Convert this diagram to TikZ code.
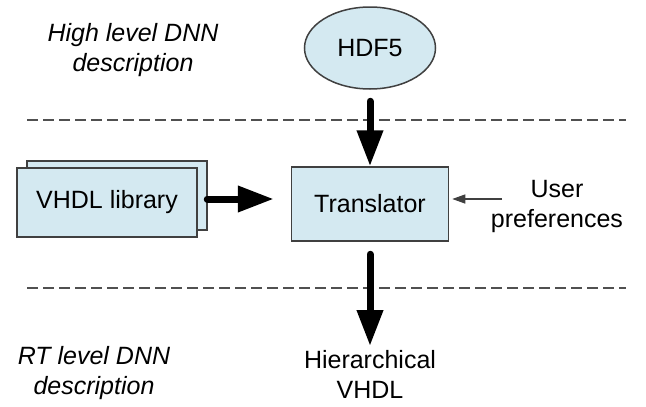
\documentclass[tikz,border=0pt]{standalone}
\usepackage{fontspec}
\setmainfont{Liberation Sans}
\usetikzlibrary{arrows.meta,shapes.geometric}
\definecolor{boxfill}{RGB}{212,233,241}
\definecolor{boxline}{RGB}{64,64,64}
\definecolor{dashcol}{RGB}{80,80,80}
\begin{document}
\begin{tikzpicture}[x=1pt,y=-1pt,
  every node/.style={font=\fontsize{25}{30}\selectfont, inner sep=0pt, align=center},
  blockbox/.style={draw=boxline, fill=boxfill, line width=1.5pt, rectangle},
  ovalbox/.style={draw=boxline, fill=boxfill, line width=1.5pt, ellipse},
  levellabel/.style={font=\fontsize{25}{30}\selectfont\itshape},
  separator/.style={draw=dashcol, line width=2pt, dash pattern=on 11pt off 5pt},
  bigarrow/.style={line width=7pt, line cap=round, -{Triangle[length=36pt,width=25pt]}},
  thinarrow/.style={draw=black!75, line width=1.3pt, -{Triangle[length=13pt,width=9pt]}}
]
\useasboundingbox (0,0) rectangle (646,407);

% separators
\coordinate (s1a) at (27,120);
\coordinate (s1b) at (626,120);
\coordinate (s2a) at (27,288);
\coordinate (s2b) at (626,288);
\draw[separator] (s1a) -- (s1b);
\draw[separator] (s2a) -- (s2b);

% level labels
\node[levellabel] (hl) at (133,50) {High level DNN\\description};
\node[levellabel] (rl) at (94,373.5) {RT level DNN\\description};

% blocks
\node[ovalbox, minimum width=131pt, minimum height=82pt] (hdf) at (370,48) {HDF5};
\node[blockbox, minimum width=157pt, minimum height=74pt] (trans) at (370,204) {Translator};
\node[blockbox, minimum width=180pt, minimum height=69pt] (vlibback) at (117,195.5) {};
\node[blockbox, minimum width=180pt, minimum height=69pt] (vlib) at (107,202.5) {VHDL library};

% texts
\node (user) at (557,206) {User\\preferences};
\node (hier) at (370,374) {Hierarchical\\VHDL};

% connector helpers
\coordinate (va) at (0,199);
\coordinate (pu) at (502,199);
\coordinate (outtip) at (370,346);

% connectors
\draw[bigarrow, shorten <=11.5pt] (hdf.south) -- (trans.north);
\draw[bigarrow, shorten <=9.5pt, shorten >=17pt] (vlib.east |- va) -- (trans.west |- va);
\draw[thinarrow, shorten >=3pt] (pu) -- (trans.east |- pu);
\draw[bigarrow, shorten <=12.5pt] (trans.south) -- (outtip);
\end{tikzpicture}
\end{document}
